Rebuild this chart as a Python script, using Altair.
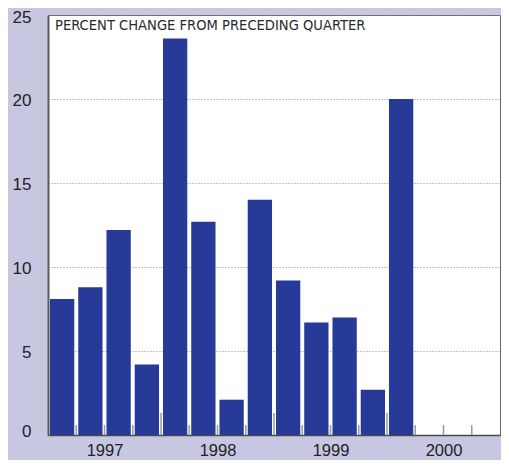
import altair as alt
import pandas as pd

# ---- data ----
quarter_index = list(range(13))            # 1997Q1 .. 2000Q1
pct_change = [8.1, 8.8, 12.2, 4.2, 23.6, 12.7, 2.1, 14.0, 9.2, 6.7, 7.0, 2.7, 20.0]
years = [1997, 1998, 1999, 2000]
year_label_pos = [2, 6, 10, 14]
quarter_boundaries = [1, 2, 3, 5, 6, 7, 9, 10, 11, 13, 14, 15]
year_boundaries = [4, 8, 12]
y_ticks = [0, 5, 10, 15, 20, 25]
title_text = ["PERCENT CHANGE FROM PRECEDING QUARTER"]

BG = "#c7c7e2"
BAR = "#273a97"
W, H = 452, 420
FONT = "Liberation Sans, Arial, sans-serif"
NARROW = "Liberation Sans Narrow, DejaVu Sans Condensed, Roboto Condensed, sans-serif"

df = pd.DataFrame({"q": quarter_index, "v": pct_change})

x_scale = alt.Scale(domain=[0, 16], nice=False, zero=False)
y_scale = alt.Scale(domain=[0, 25], nice=False)

x_axis = alt.Axis(
    values=year_label_pos,
    labelExpr="'' + (1997 + (datum.value - 2) / 4)",
    ticks=False, grid=False, title=None,
    domainColor="#4a4a4a", domainWidth=1.5,
    labelFont=FONT, labelFontSize=16.5, labelColor="#222",
    labelPadding=7)

bars = alt.Chart(df).transform_calculate(
    x0="datum.q + 0.07", x1="datum.q + 0.93", base="0"
).mark_bar(color=BAR).encode(
    x=alt.X("x0:Q", scale=x_scale, axis=x_axis),
    x2="x1:Q",
    y=alt.Y("v:Q", scale=y_scale, axis=alt.Axis(
        values=y_ticks, grid=True, gridDash=[1, 2], gridColor="#8a8a8a",
        gridWidth=1, ticks=False, title=None,
        domainColor="#5a5a5a", domainWidth=2,
        labelFont=FONT, labelFontSize=17, labelColor="#222",
        labelPadding=17,
        labelOffset={"condition": [
            {"test": "datum.value == 25", "value": 2},
            {"test": "datum.value == 0", "value": -4}],
            "value": 1.5})),
    y2="base:Q",
)

qticks = alt.Chart(pd.DataFrame({"b": quarter_boundaries})).mark_rule(
    color="#9a9a9a", strokeWidth=1.5
).encode(
    x=alt.X("b:Q", scale=x_scale, axis=x_axis),
    y=alt.value(H), y2=alt.value(H - 10),
)

yticks = alt.Chart(pd.DataFrame({"b": year_boundaries})).mark_rule(
    color="#9a9a9a", strokeWidth=1.5
).encode(
    x=alt.X("b:Q", scale=x_scale, axis=x_axis),
    y=alt.value(H), y2=alt.value(H - 22),
)

title = alt.Chart(pd.DataFrame({"t": title_text})).mark_text(
    align="left", baseline="middle", font=NARROW, fontSize=14.6, color="#2a2a2a"
).encode(
    x=alt.value(7), y=alt.value(10.5), text="t:N"
)

chart = alt.layer(bars, qticks, yticks, title).properties(
    width=W, height=H,
    padding={"left": 40, "top": 7, "right": 1, "bottom": 25},
    autosize=alt.AutoSizeParams(type="none"),
).configure(background=BG).configure_view(
    fill="white", stroke="#666666", strokeWidth=1
)

chart.save("out.html", embed_options={"renderer": "svg", "actions": False})
